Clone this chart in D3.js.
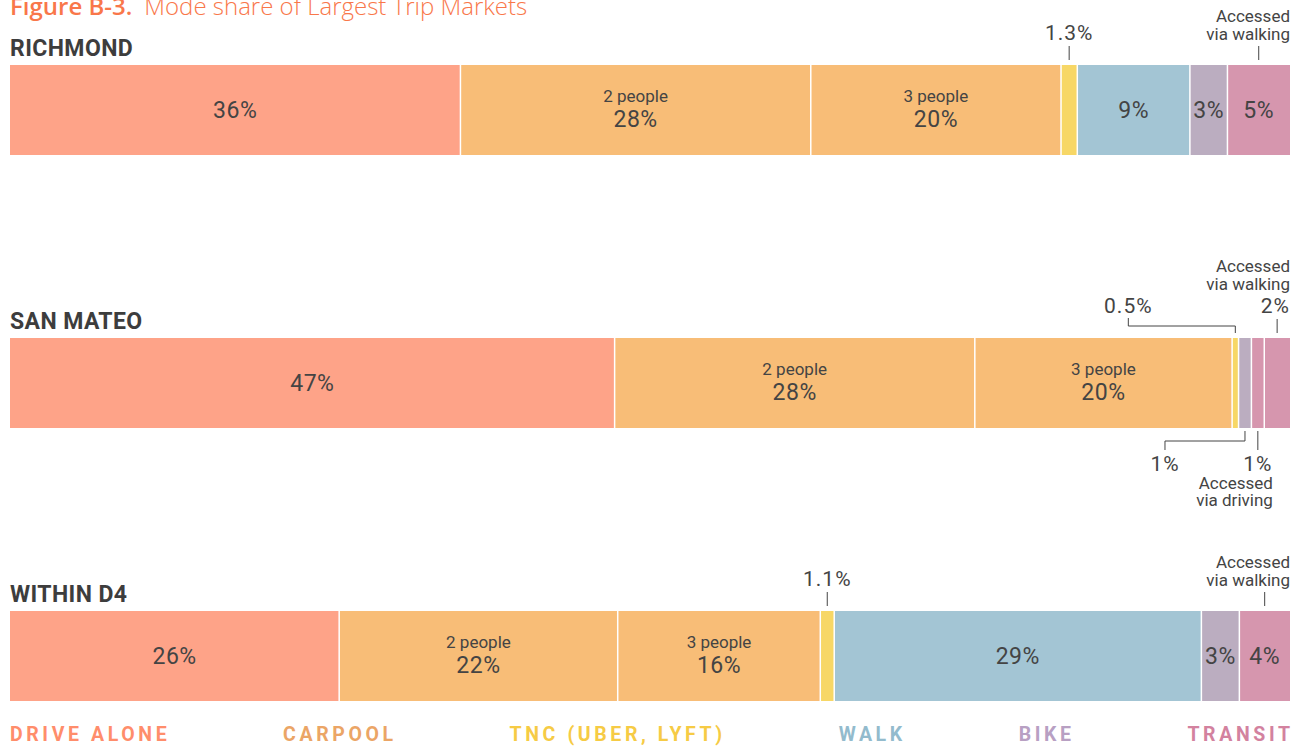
<!DOCTYPE html>
<html><head><meta charset="utf-8">
<script src="https://cdn.jsdelivr.net/npm/d3@7"></script>
<style>
html,body{margin:0;padding:0;background:#fff;}
svg{display:block;}
</style></head><body>
<svg id="chart" width="1304" height="746"></svg>
<script>
// Mode share by trip market (percent of trips)
const regions = ["RICHMOND", "SAN MATEO", "WITHIN D4"];
const modes = ["drive", "carpool2", "carpool3", "tnc", "walk", "bike", "transitDrive", "transitWalk"];
const richmond = [36, 28, 20, 1.3, 9, 3, 0, 5];
const sanMateo = [47, 28, 20, 0.5, 0, 1, 1, 2];
const withinD4 = [26, 22, 16, 1.1, 29, 3, 0, 4];
const shares = [richmond, sanMateo, withinD4];
const subLabels = ["", "2 people", "3 people", "", "", "", "", ""];
const legendLabels = ["DRIVE ALONE", "CARPOOL", "TNC (UBER, LYFT)", "WALK", "BIKE", "TRANSIT"];

const fills = {
  drive: "#fea388", carpool2: "#f8bd77", carpool3: "#f8bd77", tnc: "#f7d766",
  walk: "#a3c5d4", bike: "#bbadc0", transitDrive: "#d696ae", transitWalk: "#d696ae"
};
const legendColors = ["#ff8d6b", "#eba566", "#f6cb45", "#93bbcd", "#b8a0c3", "#d3829f"];

const left = 10, right = 1290, barH = 90;
const svg = d3.select("#chart");
const ink = "#444";
const numFont = "Roboto, 'Liberation Sans', sans-serif";

// Title
const title = svg.append("text").attr("x", left).attr("y", 15)
  .attr("font-family", "'Open Sans', sans-serif").attr("font-size", 24).attr("fill", "#f9774a");
title.append("tspan").attr("font-weight", 600).text("Figure B-3.");
title.append("tspan").attr("dx", 12).attr("font-weight", 300).text("Mode share of Largest Trip Markets");

const y = d3.scaleBand().domain(regions).range([65, 65 + 273 * regions.length]);

// Callouts for the small segments and the transit access split
const callouts = [
  {r: 0, m: 3, side: "top", label: true},
  {r: 0, m: 7, side: "top", note: ["Accessed", "via walking"]},
  {r: 1, m: 3, side: "top", label: true, elbow: -107},
  {r: 1, m: 7, side: "top", label: true, note: ["Accessed", "via walking"], alignRight: true},
  {r: 1, m: 5, side: "bottom", label: true, elbow: -80},
  {r: 1, m: 6, side: "bottom", label: true, note: ["Accessed", "via driving"]},
  {r: 2, m: 3, side: "top", label: true},
  {r: 2, m: 7, side: "top", note: ["Accessed", "via walking"]}
];

const fmt = v => v + "%";
const layouts = [];

regions.forEach((name, i) => {
  const vals = shares[i];
  const x = d3.scaleLinear().domain([0, d3.sum(vals)]).range([left, right]);
  const ends = Array.from(d3.cumsum(vals));
  const segs = vals.map((v, j) => ({v, mode: modes[j], sub: subLabels[j], x0: x(ends[j] - v), x1: x(ends[j])}));
  const top = y(name);
  layouts.push({segs, top});

  const g = svg.append("g");
  g.append("text").attr("x", left).attr("y", top - 9)
    .attr("font-family", numFont).attr("font-weight", 700).attr("font-size", 23)
    .attr("letter-spacing", 0.4).attr("fill", "#3d3d3d").text(name);

  const visible = segs.filter(s => s.v > 0);
  g.selectAll("rect.seg").data(visible).join("rect")
    .attr("class", "seg")
    .attr("x", s => s.x0).attr("y", top)
    .attr("width", s => s.x1 - s.x0).attr("height", barH)
    .attr("fill", s => fills[s.mode]);

  // thin white dividers between segments
  g.selectAll("line.div").data(visible.slice(1)).join("line")
    .attr("class", "div")
    .attr("x1", s => s.x0).attr("x2", s => s.x0)
    .attr("y1", top).attr("y2", top + barH)
    .attr("stroke", "#fff").attr("stroke-width", 1.5);

  const inside = visible.filter(s => s.v >= 3);
  inside.forEach(s => {
    const cx = (s.x0 + s.x1) / 2, cy = top + barH / 2;
    if (s.sub) {
      g.append("text").attr("x", cx).attr("y", cy - 8).attr("text-anchor", "middle")
        .attr("font-family", numFont).attr("font-size", 17).attr("fill", ink).text(s.sub);
      g.append("text").attr("x", cx).attr("y", cy + 17).attr("text-anchor", "middle")
        .attr("font-family", numFont).attr("font-size", 23).attr("letter-spacing", 0.5)
        .attr("fill", ink).text(fmt(s.v));
    } else {
      g.append("text").attr("x", cx).attr("y", cy + 8).attr("text-anchor", "middle")
        .attr("font-family", numFont).attr("font-size", 23).attr("letter-spacing", 0.5)
        .attr("fill", ink).text(fmt(s.v));
    }
  });
});

const cg = svg.append("g");
callouts.forEach(c => {
  const {segs, top} = layouts[c.r];
  const s = segs[c.m];
  const cx = (s.x0 + s.x1) / 2;
  const lx = cx + (c.elbow || 0);
  const bottom = top + barH;
  const path = d3.path();
  if (c.side === "top") {
    if (c.elbow) {
      path.moveTo(lx, top - 20); path.lineTo(lx, top - 12);
      path.lineTo(cx, top - 12); path.lineTo(cx, top - 5);
    } else {
      path.moveTo(cx, top - 19); path.lineTo(cx, top - 5);
    }
    if (c.label) {
      cg.append("text").attr("x", c.alignRight ? right : lx).attr("y", top - 25)
        .attr("text-anchor", c.alignRight ? "end" : "middle")
        .attr("font-family", numFont).attr("font-size", 21).attr("letter-spacing", 1)
        .attr("fill", ink).text(fmt(s.v));
    }
    if (c.note) {
      const base = c.label ? top - 66 : top - 43;
      c.note.forEach((t, k) => cg.append("text").attr("x", right).attr("y", base + k * 18)
        .attr("text-anchor", "end").attr("font-family", numFont).attr("font-size", 17)
        .attr("fill", ink).text(t));
    }
  } else {
    if (c.elbow) {
      path.moveTo(cx, bottom + 3); path.lineTo(cx, bottom + 13);
      path.lineTo(lx, bottom + 13); path.lineTo(lx, bottom + 22);
    } else {
      path.moveTo(cx, bottom + 3); path.lineTo(cx, bottom + 22);
    }
    if (c.label) {
      cg.append("text").attr("x", lx).attr("y", bottom + 43).attr("text-anchor", "middle")
        .attr("font-family", numFont).attr("font-size", 21).attr("letter-spacing", 1)
        .attr("fill", ink).text(fmt(s.v));
    }
    if (c.note) {
      c.note.forEach((t, k) => cg.append("text").attr("x", cx + 15).attr("y", bottom + 61 + k * 17)
        .attr("text-anchor", "end").attr("font-family", numFont).attr("font-size", 17)
        .attr("fill", ink).text(t));
    }
  }
  cg.append("path").attr("d", path.toString()).attr("fill", "none")
    .attr("stroke", ink).attr("stroke-width", 1);
});

// Legend: bold, letter-spaced labels spread edge to edge
const spacing = 3.6;
const lg = svg.append("g");
const items = lg.selectAll("text").data(legendLabels).join("text")
  .attr("y", 741)
  .attr("font-family", numFont)
  .attr("font-weight", 700).attr("font-size", 19.5).attr("letter-spacing", spacing)
  .attr("fill", (d, i) => legendColors[i]).text(d => d);
const widths = items.nodes().map(n => n.getBBox().width - spacing);
const gap = (right - left - d3.sum(widths)) / (legendLabels.length - 1);
let cursor = left;
items.attr("x", (d, i) => { const p = cursor; cursor += widths[i] + gap; return p; });
</script>
</body></html>
